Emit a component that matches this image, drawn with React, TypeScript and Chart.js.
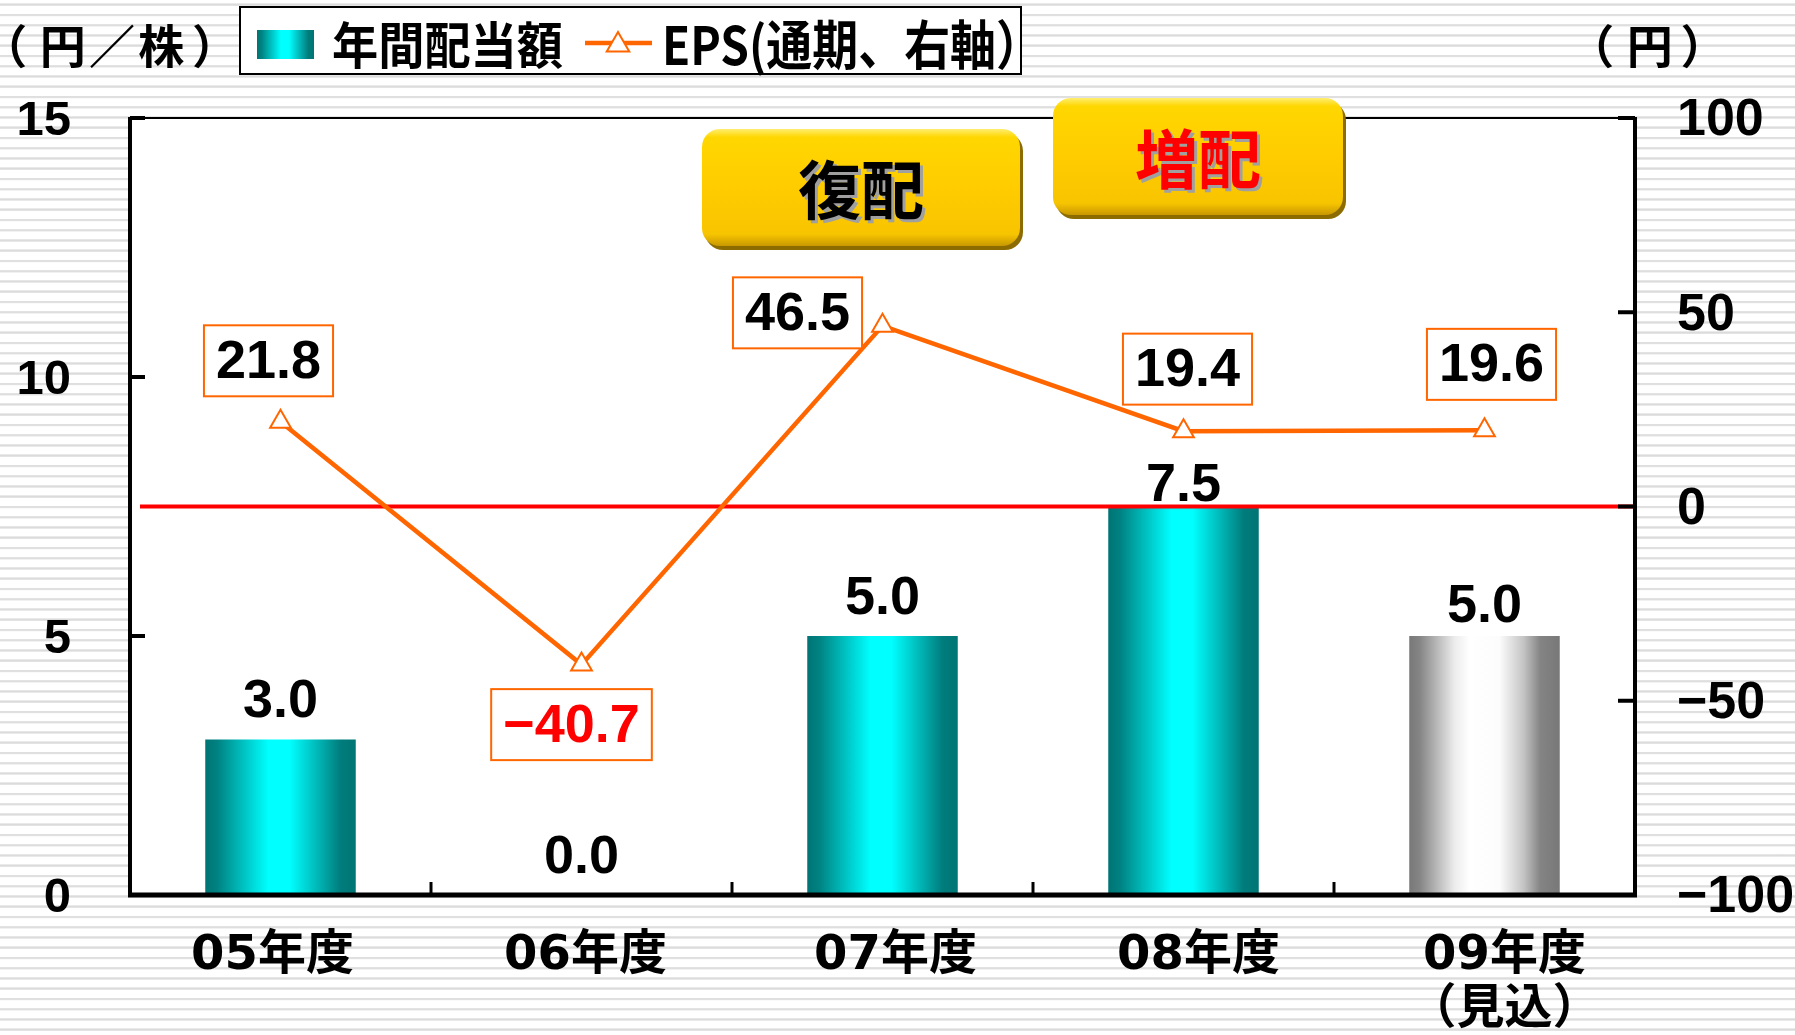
import React, { useEffect, useRef } from "react";
import { Chart, registerables } from "chart.js";

Chart.register(...registerables);

// ---------------- data ----------------
const categories: (string | string[])[] = ["05年度", "06年度", "07年度", "08年度", ["09年度", "（見込）"]];
const dividendLabel = "年間配当額";
const dividend = [3.0, 0.0, 5.0, 7.5, 5.0];
const isForecast = [false, false, false, false, true];
const epsLabel = "EPS(通期、右軸）";
const eps = [21.8, -40.7, 46.5, 19.4, 19.6];
const leftTicks = [0, 5, 10, 15];
const rightTicks = [-100, -50, 0, 50, 100];
const leftUnit = "（円／株）";
const rightUnit = "（円）";
const calloutTexts = ["復配", "増配"];
const calloutColors = ["#000000", "#ff0000"];

// ---------------- layout / style ----------------
const W = 1795;
const H = 1035;
const NUM_FONT = '"Liberation Sans", Arial, sans-serif';
const JP_FONT = '"Noto Sans CJK JP", "Noto Sans", sans-serif';
const CAT_FONT = '"DejaVu Sans", "Noto Sans CJK JP", sans-serif';
const ORANGE = "#ff6600";
const barLabelLift = [37, 37, 37, 20, 29];
const catLabelShift = [-8, 4, 13, 15, 20];
const epsBoxOffsets: [number, number][] = [
  [-12, -61],
  [-10, 60],
  [-85, -13],
  [4, -62],
  [7, -66],
];
const EPS_BOX_H = 71;
const EPS_BOX_PAD = 12;
const calloutBoxes = [
  { x: 702, y: 129, w: 318, h: 117 },
  { x: 1053, y: 98, w: 290, h: 117 },
];

const TEAL_STOPS: [number, string][] = [
  [0, "#007474"],
  [0.08, "#008282"],
  [0.42, "#00ffff"],
  [0.56, "#00ffff"],
  [0.9, "#007c7c"],
  [1, "#007575"],
];
const GREY_STOPS: [number, string][] = [
  [0, "#787878"],
  [0.07, "#858585"],
  [0.3, "#ececec"],
  [0.4, "#ffffff"],
  [0.6, "#fcfcfc"],
  [0.76, "#c4c4c4"],
  [0.87, "#848484"],
  [1, "#787878"],
];

function barGradient(ctx: CanvasRenderingContext2D, x0: number, x1: number, grey: boolean) {
  if (!isFinite(x0) || !isFinite(x1) || x1 <= x0) return grey ? "#c0c0c0" : "#00cccc";
  const g = ctx.createLinearGradient(x0, 0, x1, 0);
  (grey ? GREY_STOPS : TEAL_STOPS).forEach(([o, c]) => g.addColorStop(o, c));
  return g;
}

function fmtSigned(v: number) {
  const s = Math.abs(v).toFixed(1);
  return v < 0 ? "\u2212" + s : s;
}

function drawTriangle(ctx: CanvasRenderingContext2D, x: number, y: number, r: number) {
  ctx.beginPath();
  ctx.moveTo(x, y - r);
  ctx.lineTo(x + 0.866 * r, y + 0.5 * r);
  ctx.lineTo(x - 0.866 * r, y + 0.5 * r);
  ctx.closePath();
  ctx.fillStyle = "#ffffff";
  ctx.fill();
  ctx.strokeStyle = ORANGE;
  ctx.lineWidth = 2;
  ctx.stroke();
}

// draws Japanese text with compact full-width brackets
function drawTightJP(ctx: CanvasRenderingContext2D, text: string, x: number, y: number, size: number) {
  ctx.font = `bold ${size}px ${JP_FONT}`;
  ctx.textAlign = "left";
  ctx.textBaseline = "middle";
  let cur = x;
  for (const ch of Array.from(text)) {
    if (ch === "（") {
      ctx.fillText(ch, cur - 0.45 * size, y);
      cur += 0.82 * size;
    } else if (ch === "）") {
      ctx.fillText(ch, cur + 0.1 * size, y);
      cur += 0.82 * size;
    } else {
      ctx.fillText(ch, cur, y);
      cur += size * 1.07;
    }
  }
}

const decorPlugin = {
  id: "decor",
  beforeDatasetsDraw(chart: any) {
    const meta = chart.getDatasetMeta(0);
    meta.data.forEach((el: any, i: number) => {
      if (el.options) {
        el.options.backgroundColor = barGradient(chart.ctx, el.x - el.width / 2, el.x + el.width / 2, isForecast[i]);
      }
    });
  },
  beforeDraw(chart: any) {
    const { ctx, chartArea: a } = chart;
    ctx.save();
    ctx.fillStyle = "#ffffff";
    ctx.fillRect(a.left, a.top, a.right - a.left, a.bottom - a.top);
    ctx.restore();
  },
  afterDatasetDraw(chart: any, args: any) {
    if (args.index !== 0) return;
    const { ctx, chartArea: a } = chart;
    const y = chart.scales.y1.getPixelForValue(0);
    ctx.save();
    ctx.strokeStyle = "#ff0000";
    ctx.lineWidth = 4;
    ctx.beginPath();
    ctx.moveTo(a.left + 10, y);
    ctx.lineTo(a.right, y);
    ctx.stroke();
    ctx.restore();
  },
  afterDatasetsDraw(chart: any) {
    const { ctx } = chart;
    ctx.save();
    ctx.textAlign = "center";
    ctx.textBaseline = "middle";
    ctx.font = `bold 54px ${NUM_FONT}`;
    const barMeta = chart.getDatasetMeta(0);
    barMeta.data.forEach((el: any, i: number) => {
      ctx.fillStyle = "#000000";
      ctx.fillText(dividend[i].toFixed(1), el.x, el.y - barLabelLift[i]);
    });
    const lineMeta = chart.getDatasetMeta(1);
    lineMeta.data.forEach((el: any, i: number) => {
      const [dx, dy] = epsBoxOffsets[i];
      const txt = fmtSigned(eps[i]);
      const bw = ctx.measureText(txt).width + 2 * EPS_BOX_PAD;
      const cx = el.x + dx;
      const cy = el.y + dy;
      ctx.fillStyle = "#ffffff";
      ctx.fillRect(cx - bw / 2, cy - EPS_BOX_H / 2, bw, EPS_BOX_H);
      ctx.strokeStyle = ORANGE;
      ctx.lineWidth = 2;
      ctx.strokeRect(cx - bw / 2, cy - EPS_BOX_H / 2, bw, EPS_BOX_H);
      ctx.fillStyle = eps[i] < 0 ? "#ff0000" : "#000000";
      ctx.fillText(txt, cx, cy + 2);
    });
    ctx.restore();
  },
  afterDraw(chart: any) {
    const { ctx, chartArea: a } = chart;
    const ys = chart.scales.y;
    const y1 = chart.scales.y1;
    const xs = chart.scales.x;
    ctx.save();
    ctx.strokeStyle = "#000000";
    ctx.lineCap = "butt";
    ctx.lineWidth = 2;
    ctx.beginPath();
    ctx.moveTo(a.left, a.top);
    ctx.lineTo(a.right, a.top);
    ctx.stroke();
    ctx.lineWidth = 4;
    ctx.beginPath();
    ctx.moveTo(a.left, a.top - 1);
    ctx.lineTo(a.left, a.bottom);
    ctx.moveTo(a.right, a.top - 1);
    ctx.lineTo(a.right, a.bottom);
    ctx.stroke();
    ys.ticks.forEach((t: any) => {
      const y = ys.getPixelForValue(t.value);
      ctx.beginPath();
      ctx.moveTo(a.left, y);
      ctx.lineTo(a.left + 15, y);
      ctx.stroke();
    });
    y1.ticks.forEach((t: any) => {
      const y = y1.getPixelForValue(t.value);
      ctx.beginPath();
      ctx.moveTo(a.right, y);
      ctx.lineTo(a.right - 17, y);
      ctx.stroke();
    });
    ctx.lineWidth = 5;
    ctx.beginPath();
    ctx.moveTo(a.left - 2, a.bottom);
    ctx.lineTo(a.right + 2, a.bottom);
    ctx.stroke();
    ctx.lineWidth = 3;
    for (let i = 1; i < categories.length; i++) {
      const x = (xs.getPixelForValue(i - 1) + xs.getPixelForValue(i)) / 2;
      ctx.beginPath();
      ctx.moveTo(x, a.bottom);
      ctx.lineTo(x, a.bottom - 13);
      ctx.stroke();
    }

    // category labels (positioned from the category scale)
    ctx.fillStyle = "#000000";
    ctx.textAlign = "center";
    ctx.textBaseline = "middle";
    ctx.font = `bold 48px ${CAT_FONT}`;
    categories.forEach((lab, i) => {
      const x = xs.getPixelForValue(i) + catLabelShift[i];
      const lines = Array.isArray(lab) ? lab : [lab];
      lines.forEach((ln, k) => {
        ctx.fillText(ln, x, a.bottom + 62 + k * 54);
      });
    });

    // unit labels
    drawTightJP(ctx, leftUnit, 2, 46, 46);
    drawTightJP(ctx, rightUnit, 1589, 46, 46);

    // legend
    const lg = { x: 240, y: 7, w: 781, h: 67 };
    ctx.fillStyle = "#ffffff";
    ctx.fillRect(lg.x, lg.y, lg.w, lg.h);
    ctx.strokeStyle = "#000000";
    ctx.lineWidth = 2;
    ctx.strokeRect(lg.x, lg.y, lg.w, lg.h);
    ctx.fillStyle = barGradient(ctx, 257, 314, false);
    ctx.fillRect(257, 30, 57, 29);
    ctx.fillStyle = "#000000";
    ctx.textAlign = "left";
    ctx.textBaseline = "middle";
    ctx.font = `bold 50px ${JP_FONT}`;
    ctx.fillText(chart.data.datasets[0].label, 332, 45, 231);
    ctx.strokeStyle = ORANGE;
    ctx.lineWidth = 4.5;
    ctx.beginPath();
    ctx.moveTo(585, 43);
    ctx.lineTo(652, 43);
    ctx.stroke();
    drawTriangle(ctx, 618, 45, 13);
    ctx.fillStyle = "#000000";
    ctx.font = `bold 53px ${JP_FONT}`;
    ctx.fillText(chart.data.datasets[1].label, 662, 45, 380);

    // callouts
    calloutTexts.forEach((txt, i) => {
      const b = calloutBoxes[i];
      const r = 18;
      ctx.fillStyle = "#8c6c00";
      ctx.beginPath();
      ctx.roundRect(b.x + 3, b.y + 4, b.w, b.h, r);
      ctx.fill();
      const g = ctx.createLinearGradient(0, b.y, 0, b.y + b.h);
      g.addColorStop(0, "#ffee70");
      g.addColorStop(0.07, "#ffd700");
      g.addColorStop(0.5, "#ffcc00");
      g.addColorStop(0.9, "#f7c400");
      g.addColorStop(1, "#c89800");
      ctx.fillStyle = g;
      ctx.beginPath();
      ctx.roundRect(b.x, b.y, b.w, b.h, r);
      ctx.fill();
      ctx.font = `bold 64px ${JP_FONT}`;
      ctx.textAlign = "center";
      const cx = b.x + b.w / 2;
      const cy = b.y + b.h / 2 + 2;
      ctx.fillStyle = "#a0a0a0";
      ctx.fillText(txt, cx + 3, cy + 3, 126);
      ctx.fillStyle = calloutColors[i];
      ctx.fillText(txt, cx, cy, 126);
    });
    ctx.restore();
  },
};

export default function App() {
  const ref = useRef<HTMLCanvasElement | null>(null);
  useEffect(() => {
    document.body.style.margin = "0";
    const canvas = ref.current;
    if (!canvas) return;
    const chart = new Chart(canvas, {
      type: "bar",
      data: {
        labels: categories as any,
        datasets: [
          {
            type: "bar",
            label: dividendLabel,
            data: dividend,
            yAxisID: "y",
            order: 1,
            categoryPercentage: 0.5,
            barPercentage: 1.0,
            borderWidth: 0,
            backgroundColor: (c: any) => (isForecast[c.dataIndex] ? "#c0c0c0" : "#00cccc"),
          } as any,
          {
            type: "line",
            label: epsLabel,
            data: eps,
            yAxisID: "y1",
            order: 0,
            borderColor: ORANGE,
            borderWidth: 4.5,
            tension: 0,
            pointStyle: "triangle",
            pointRadius: 12,
            pointBackgroundColor: "#ffffff",
            pointBorderColor: ORANGE,
            pointBorderWidth: 2,
          } as any,
        ],
      },
      options: {
        responsive: false,
        animation: false,
        layout: { padding: { top: 118, left: 0, right: 0, bottom: 0 } },
        plugins: { legend: { display: false }, tooltip: { enabled: false } },
        scales: {
          x: {
            offset: true,
            grid: { display: false, drawTicks: false },
            border: { display: false },
            afterFit: (s: any) => {
              s.height = 140;
            },
            ticks: { display: false, autoSkip: false, maxRotation: 0, minRotation: 0 },
          },
          y: {
            position: "left",
            min: 0,
            max: 15,
            afterBuildTicks: (s: any) => {
              s.ticks = leftTicks.map((v) => ({ value: v }));
            },
            grid: { display: false, drawTicks: false },
            border: { display: false },
            afterFit: (s: any) => {
              s.width = 130;
            },
            ticks: {
              padding: 59,
              labelOffset: 3,
              color: "#000000",
              font: { family: NUM_FONT, size: 49, weight: "bold" },
            },
          },
          y1: {
            position: "right",
            min: -100,
            max: 100,
            afterBuildTicks: (s: any) => {
              s.ticks = rightTicks.map((v) => ({ value: v }));
            },
            grid: { display: false, drawTicks: false },
            border: { display: false },
            afterFit: (s: any) => {
              s.width = 160;
            },
            ticks: {
              padding: 42,
              labelOffset: 3,
              color: "#000000",
              font: { family: NUM_FONT, size: 52, weight: "bold" },
              callback: (v: any) => (Number(v) < 0 ? "\u2212" + Math.abs(Number(v)) : String(v)),
            },
          },
        },
      },
      plugins: [decorPlugin],
    });
    return () => chart.destroy();
  }, []);

  const stripes =
    "repeating-linear-gradient(to bottom, #ffffff 0px, #ffffff 3.4px, #ebebeb 3.4px, #dadada 4.6px, #e4e4e4 5.6px, #ffffff 6.4px, #ffffff 10.25px)";

  return (
    <div style={{ width: W, height: H, overflow: "hidden", backgroundImage: stripes }}>
      <canvas ref={ref} width={W} height={H} style={{ display: "block", width: W, height: H }} />
    </div>
  );
}
